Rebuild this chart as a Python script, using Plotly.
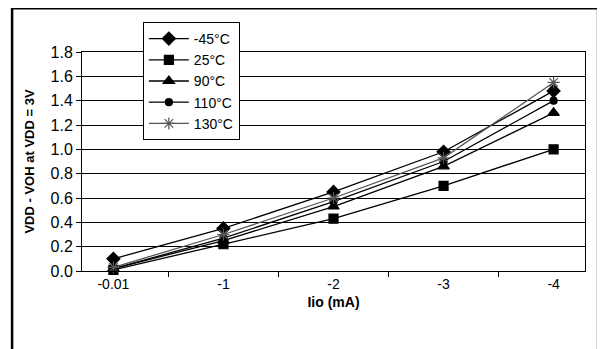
import plotly.graph_objects as go

currents = ["-0.01", "-1", "-2", "-3", "-4"]

t_m45 = [0.10, 0.35, 0.65, 0.98, 1.48]
t_25 = [0.01, 0.22, 0.43, 0.70, 1.00]
t_90 = [0.02, 0.25, 0.53, 0.86, 1.30]
t_110 = [0.02, 0.27, 0.57, 0.90, 1.40]
t_130 = [0.03, 0.30, 0.60, 0.93, 1.55]

series = [
    ("-45°C", t_m45, "diamond", 10, "black"),
    ("25°C", t_25, "square", 9, "black"),
    ("90°C", t_90, "triangle-up", 10, "black"),
    ("110°C", t_110, "circle", 7, "black"),
    ("130°C", t_130, "asterisk-open", 10, "#555555"),
]

fig = go.Figure()
for name, vals, symbol, size, color in series:
    fig.add_trace(
        go.Scatter(
            x=currents,
            y=vals,
            name=name,
            mode="lines+markers",
            line=dict(color=color, width=1.3),
            marker=dict(symbol=symbol, size=size, color=color,
                        line=dict(color=color, width=1.2)),
            cliponaxis=False,
        )
    )

font = "Arial, Liberation Sans, sans-serif"

# page has an 8px body margin, so the figure is sized to fit inside it
fig.update_layout(
    width=589,
    height=341,
    margin=dict(l=74, r=12, t=44, b=78, autoexpand=False),
    paper_bgcolor="white",
    plot_bgcolor="white",
    font=dict(family=font, color="black"),
    showlegend=True,
    legend=dict(
        x=0.121, y=1.137, xanchor="left", yanchor="top",
        bgcolor="white", bordercolor="black", borderwidth=1,
        font=dict(size=14, family=font), tracegroupgap=0,
        itemwidth=40,
    ),
    xaxis=dict(
        type="category",
        automargin=False,
        showgrid=False,
        showline=True, linecolor="black", linewidth=1, mirror=True,
        ticks="outside", tickson="boundaries", ticklen=5, tickcolor="black",
        tickfont=dict(size=14),
        title=dict(text="<b>Iio (mA)</b>", font=dict(size=14), standoff=6),
    ),
    yaxis=dict(
        automargin=False,
        range=[0, 1.8], dtick=0.2, tickformat=".1f",
        showgrid=True, gridcolor="black", gridwidth=1,
        showline=True, linecolor="black", linewidth=1, mirror=True,
        ticks="outside", ticklen=5, tickcolor="black",
        tickfont=dict(size=16),
        zeroline=False,
        title=dict(text="<b>VDD - VOH at VDD = 3V</b>", font=dict(size=13), standoff=12),
    ),
    shapes=[
        dict(type="rect", xref="paper", yref="paper",
             x0=-0.139, x1=1.026, y0=-0.45, y1=1.2,
             line=dict(color="black", width=2.5), layer="below"),
    ],
)

fig.write_html("out.html")
